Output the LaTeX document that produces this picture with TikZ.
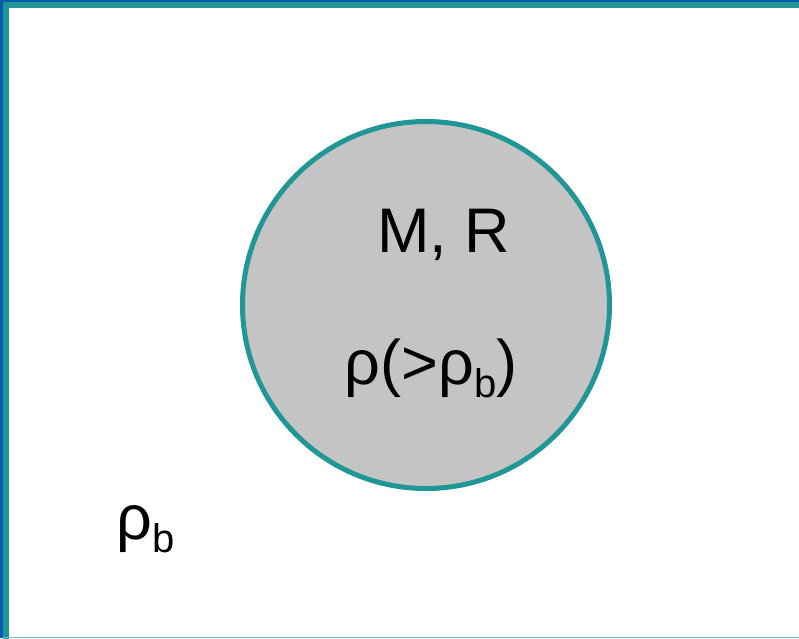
\documentclass[tikz,border=0pt]{standalone}
\usepackage{fontspec}
\setmainfont{Liberation Sans}
\definecolor{rim}{RGB}{33,150,150}
\definecolor{slideblue}{RGB}{10,90,180}
\definecolor{bodyfill}{RGB}{196,196,196}
\newcommand{\sub}[1]{\raisebox{-13pt}{\fontsize{40}{42}\selectfont #1}}
\tikzset{
  % framed region
  frameline/.style={draw=rim, line width=6pt},
  % the sphere
  body/.style={circle, fill=bodyfill, draw=rim, line width=5pt,
    minimum size=367pt, inner sep=0pt},
  % big labels
  biglabel/.style={font=\fontsize{63}{72}\selectfont, inner sep=0pt, anchor=base}
}
\begin{document}
\begin{tikzpicture}[x=1pt, y=-1pt]
\useasboundingbox (0,0) rectangle (799,638);
\fill[white] (0,0) rectangle (799,638);
\begin{scope}
\clip (0,0) rectangle (799,638);
\draw[frameline] (5.5,4.5) rectangle (830,650);
\draw[rim!60, line width=1.5pt] (0,637.5) -- (799,637.5);
\fill[slideblue] (0,0) rectangle (3,638);
\fill[slideblue] (0,0) rectangle (799,2);
\end{scope}

\node[body] (sphere) at (426,305) {};
\node[biglabel] (mass) at (444,252) {M, R};
\node[biglabel] (rhoin) at (431,384) {ρ(>ρ\sub{b})};
\node[biglabel] (rhob) at (146,539) {ρ\sub{b}};
\end{tikzpicture}
\end{document}
